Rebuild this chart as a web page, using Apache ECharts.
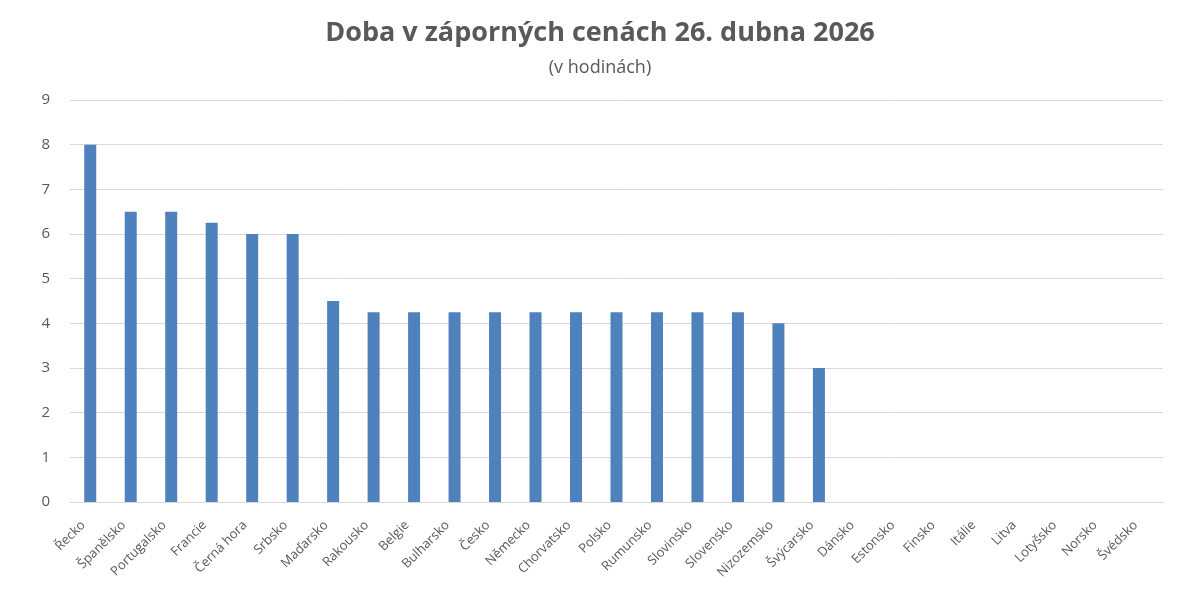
<!DOCTYPE html>
<html>
<head>
<meta charset="utf-8">
<script src="https://cdn.jsdelivr.net/npm/echarts@6/dist/echarts.min.js"></script>
<style>
    html, body { margin: 0; padding: 0; background: #fff; }
    #chart { width: 1200px; height: 593px; }
</style>
</head>
<body>
<div id="chart"></div>
<script>
var countries = ['Řecko', 'Španělsko', 'Portugalsko', 'Francie', 'Černá hora', 'Srbsko', 'Maďarsko',
    'Rakousko', 'Belgie', 'Bulharsko', 'Česko', 'Německo', 'Chorvatsko', 'Polsko', 'Rumunsko',
    'Slovinsko', 'Slovensko', 'Nizozemsko', 'Švýcarsko', 'Dánsko', 'Estonsko', 'Finsko', 'Itálie',
    'Litva', 'Lotyšsko', 'Norsko', 'Švédsko'];
var hours = [8, 6.5, 6.5, 6.25, 6, 6, 4.5,
    4.25, 4.25, 4.25, 4.25, 4.25, 4.25, 4.25, 4.25,
    4.25, 4.25, 4, 3, 0, 0, 0, 0,
    0, 0, 0, 0];

var font = '"Open Sans", "Liberation Sans", sans-serif';
var textColor = '#595959';

var mychart = echarts.init(document.getElementById('chart'));
var option = {
    animation: false,
    title: {
        text: 'Doba v záporných cenách 26. dubna 2026',
        subtext: '(v hodinách)',
        left: 'center',
        top: 15,
        itemGap: 12,
        textStyle: {
            color: textColor,
            fontFamily: font,
            fontSize: 27,
            fontWeight: 'bold'
        },
        subtextStyle: {
            color: textColor,
            fontFamily: font,
            fontSize: 18
        }
    },
    grid: {
        left: 70,
        right: 37,
        top: 100,
        bottom: 91
    },
    xAxis: {
        type: 'category',
        data: countries,
        axisLine: {
            lineStyle: { color: '#d9d9d9' }
        },
        // bez ticku
        axisTick: { show: false },
        axisLabel: {
            rotate: 45,
            interval: 0,
            color: textColor,
            fontFamily: font,
            fontSize: 13,
            margin: 14,
            // posun textu po diagonale
            padding: [0, 10, 0, 0]
        }
    },
    yAxis: {
        type: 'value',
        min: 0,
        max: 9,
        interval: 1,
        axisLine: { show: false },
        axisTick: { show: false },
        splitLine: {
            lineStyle: { color: '#d9d9d9' }
        },
        axisLabel: {
            color: textColor,
            fontFamily: font,
            fontSize: 15,
            margin: 20
        }
    },
    series: [{
        type: 'bar',
        data: hours,
        barWidth: 12,
        itemStyle: {
            color: '#4f81bd'
        }
    }]
};
mychart.setOption(option);
window.addEventListener('resize', function () {
    mychart.resize();
});
</script>
</body>
</html>
